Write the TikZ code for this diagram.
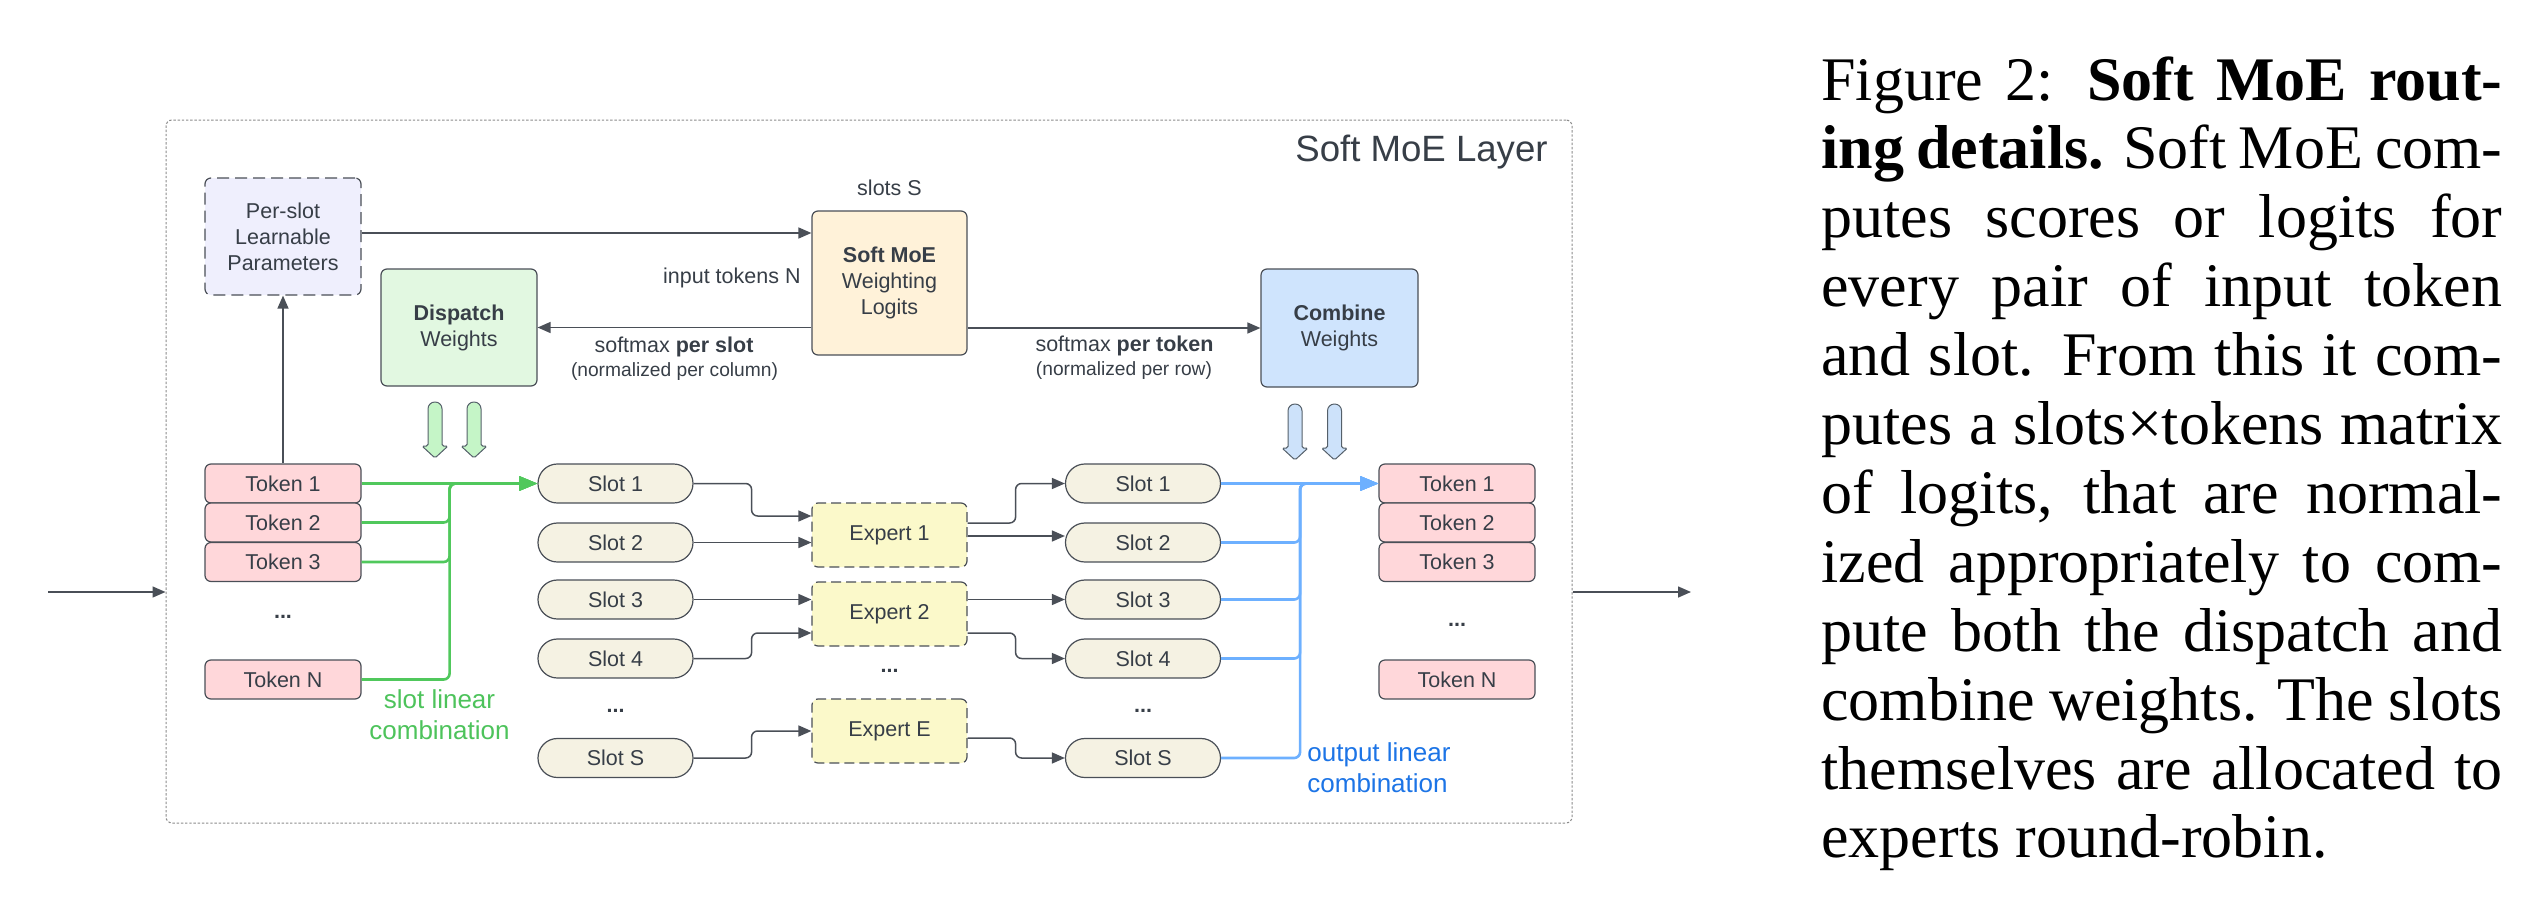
\documentclass[tikz,border=0pt]{standalone}
\usepackage{fontspec}
\setmainfont{Liberation Sans}
\newfontfamily\capserif{Liberation Serif}
\usetikzlibrary{arrows.meta,calc}

\definecolor{edge}{HTML}{4A4F57}
\definecolor{txt}{HTML}{373E47}
\definecolor{layeredge}{HTML}{8C8C8C}
\definecolor{perfill}{HTML}{EFEFFD}
\definecolor{dispfill}{HTML}{E2F8E1}
\definecolor{moefill}{HTML}{FFF2D9}
\definecolor{combfill}{HTML}{CFE4FD}
\definecolor{tokfill}{HTML}{FFD7DA}
\definecolor{slotfill}{HTML}{F5F2E3}
\definecolor{expfill}{HTML}{FBF9CA}
\definecolor{gfat}{HTML}{C5F5C7}
\definecolor{bfat}{HTML}{CDE2FA}
\definecolor{fatedge}{HTML}{55606A}
\definecolor{gline}{HTML}{50C85C}
\definecolor{gtext}{HTML}{4DC35B}
\definecolor{bline}{HTML}{6DB0FF}
\definecolor{btext}{HTML}{1C74E6}

\tikzset{
  box/.style={draw=edge, line width=0.6pt, rounded corners=3pt, align=center, inner sep=0pt},
  dashbox/.style={box, dash pattern=on 6pt off 3pt},
  bigbox/.style={box, minimum width=78pt, minimum height=58.5pt},
  token/.style={box, fill=tokfill, minimum width=78pt, minimum height=19.5pt},
  slot/.style={box, fill=slotfill, rounded corners=9.7pt, minimum width=77.5pt, minimum height=19.5pt},
  expert/.style={dashbox, dash pattern=on 5pt off 2.5pt, fill=expfill, minimum width=77.5pt, minimum height=32pt},
  label/.style={inner sep=0pt, align=center},
  dots/.style={label, font=\bfseries\fontsize{10.75}{13}\selectfont},
  small/.style={font=\fontsize{9.6}{12}\selectfont},
  conn/.style={draw=edge, line width=0.75pt, rounded corners=3pt, -{Triangle[length=6.5pt,width=5.5pt]}},
  gconn/.style={draw=gline, line width=1.3pt, rounded corners=3pt, -{Triangle[length=9pt,width=7pt]}},
  bconn/.style={draw=bline, line width=1.3pt, rounded corners=3pt, -{Triangle[length=9pt,width=7pt]}},
  capline/.style={anchor=base west, inner sep=0pt, text=black, font=\capserif\fontsize{31}{34.5}\selectfont},
  fatarrow/.pic={
    \draw[pic actions, line width=0.5pt, rounded corners=0.8pt]
      (-13,44) -- (-7,44) [rounded corners=3.4pt] -- (-7,0) -- (7,0)
      [rounded corners=0.8pt] -- (7,44) -- (13,44) -- (0,56) -- cycle;
  }
}

\begin{document}
\begin{tikzpicture}[x=0.5pt, y=-0.5pt, font=\fontsize{10.75}{13}\selectfont, text=txt]
\useasboundingbox (0,0) rectangle (2534,910);

% layer frame and title
\node[draw=layeredge, line width=0.5pt, dash pattern=on 1.2pt off 0.9pt, rounded corners=3pt,
      minimum width=703pt, minimum height=351.5pt, inner sep=0pt] (layer) at (869,471.5) {};
\node[label, anchor=east, font=\fontsize{18.3}{22}\selectfont] (title) at (1548,152) {Soft MoE Layer};

% weighting part
\node[dashbox, bigbox, fill=perfill] (ps) at (283,236.5) {Per-slot\\Learnable\\Parameters};
\node[box, fill=moefill, minimum width=77.5pt, minimum height=72pt] (moe) at (889.5,283)
     {\textbf{Soft MoE}\\Weighting\\Logits};
\node[bigbox, fill=dispfill] (disp) at (459,327.5) {\textbf{Dispatch}\\Weights};
\node[bigbox, fill=combfill, minimum width=78.5pt, minimum height=59pt] (comb) at (1339.5,328)
     {\textbf{Combine}\\Weights};

\node[label] (slotsS) at (889.5,188) {slots S};
\node[label, anchor=east] (inN) at (801,278) {input tokens N};
\node[label] (smslot) at (674,347) {softmax \textbf{per slot}};
\node[label, small] (ncol) at (674.5,372) {(normalized per column)};
\node[label] (smtok) at (1124.5,346) {softmax \textbf{per token}};
\node[label, small] (nrow) at (1124,371) {(normalized per row)};

% input tokens
\node[token] (tl1) at (283,483.5) {Token 1};
\node[token] (tl2) at (283,522.5) {Token 2};
\node[token] (tl3) at (283,562) {Token 3};
\node[dots] (tldots) at (283,617) {...};
\node[token] (tlN) at (283,679.5) {Token N};

% slots before the experts
\node[slot] (s1) at (615.5,483.5) {Slot 1};
\node[slot] (s2) at (615.5,542.5) {Slot 2};
\node[slot] (s3) at (615.5,599.5) {Slot 3};
\node[slot] (s4) at (615.5,658.5) {Slot 4};
\node[dots] (sdots) at (615.5,711) {...};
\node[slot] (sS) at (615.5,758) {Slot S};

% experts
\node[expert] (e1) at (889.5,535) {Expert 1};
\node[expert] (e2) at (889.5,614) {Expert 2};
\node[dots] (edots) at (889.5,671) {...};
\node[expert] (eE) at (889.5,731) {Expert E};

% slots after the experts
\node[slot] (r1) at (1143,483.5) {Slot 1};
\node[slot] (r2) at (1143,542.5) {Slot 2};
\node[slot] (r3) at (1143,599.5) {Slot 3};
\node[slot] (r4) at (1143,658.5) {Slot 4};
\node[dots] (rdots) at (1143,711) {...};
\node[slot] (rS) at (1143,758) {Slot S};

% output tokens
\node[token] (to1) at (1457,483.5) {Token 1};
\node[token] (to2) at (1457,522.5) {Token 2};
\node[token] (to3) at (1457,562) {Token 3};
\node[dots] (todots) at (1457,625) {...};
\node[token] (toN) at (1457,679.5) {Token N};

% combination labels
\node[label, text=gtext, font=\fontsize{13}{15.5}\selectfont] (glab) at (439.5,714.5) {slot linear\\combination};
\node[label, text=btext, font=\fontsize{13}{15.5}\selectfont, anchor=west, align=left] (blab) at (1307,768)
     {output linear\\combination};

% weight arrows
\pic[fill=gfat, draw=fatedge] at (435,402) {fatarrow};
\pic[fill=gfat, draw=fatedge] at (474,402) {fatarrow};
\pic[fill=bfat, draw=fatedge] at (1295,404) {fatarrow};
\pic[fill=bfat, draw=fatedge] at (1334.5,404) {fatarrow};

% layer input and output
\coordinate (in) at (48,592);
\coordinate (out) at (1691,592);
\draw[conn] (in) -- (layer.west |- in);
\draw[conn] (layer.east |- out) -- (out);

% logits and weights
\draw[conn] (tl1.north) -- (ps.south);
\draw[conn] ($(ps.east)+(0,-3.5)$) -- ($(moe.west)+(0,-50)$);
\draw[conn] (moe.west |- disp.east) -- (disp.east);
\draw[conn] (moe.east |- comb.west) -- (comb.west);

% dispatch: tokens into slot 1
\draw[gconn, line width=1.1pt] (tl1.east) -- (s1.west);
\draw[gconn] (tl2.east) -- ++(88,0) |- (s1.west);
\draw[gconn] (tl3.east) -- ++(88,0) |- (s1.west);
\draw[gconn] (tlN.east) -- ++(88,0) |- (s1.west);

% slots into experts
\draw[conn] (s1.east) -- ++(58,0) |- ($(e1.west)+(0,-19)$);
\draw[conn] (s2.east) -- (e1.west |- s2.east);
\draw[conn] (s3.east) -- (e2.west |- s3.east);
\draw[conn] (s4.east) -- ++(58,0) |- ($(e2.west)+(0,19)$);
\draw[conn] (sS.east) -- ++(58,0) |- (eE.west);

% experts into slots
\draw[conn] ($(e1.east)+(0,-12)$) -- ++(48,0) |- (r1.west);
\draw[conn] ($(e1.east)+(0,1)$) -- ($(r2.west)+(0,-6.5)$);
\draw[conn] (e2.east |- r3.west) -- (r3.west);
\draw[conn] ($(e2.east)+(0,19)$) -- ++(48,0) |- (r4.west);
\draw[conn] ($(eE.east)+(0,7)$) -- ++(48,0) |- (rS.west);

% combine: slots into output token 1
\draw[bconn, line width=1.1pt] (r1.east) -- (to1.west);
\draw[bconn] (r2.east) -- ++(79,0) |- (to1.west);
\draw[bconn] (r3.east) -- ++(79,0) |- (to1.west);
\draw[bconn] (r4.east) -- ++(79,0) |- (to1.west);
\draw[bconn] (rS.east) -- ++(79,0) |- (to1.west);

% caption
\node[capline] (c1) at (1821,100) {\makebox[340.5pt][s]{Figure 2: \textbf{Soft MoE rout-}}};
\node[capline] (c2) at (1821,168.9) {\makebox[340.5pt][s]{\textbf{ing details.} Soft MoE com-}};
\node[capline] (c3) at (1821,237.8) {\makebox[340.5pt][s]{putes scores or logits for}};
\node[capline] (c4) at (1821,306.7) {\makebox[340.5pt][s]{every pair of input token}};
\node[capline] (c5) at (1821,375.6) {\makebox[340.5pt][s]{and slot. From this it com-}};
\node[capline] (c6) at (1821,444.5) {\makebox[340.5pt][s]{putes a slots×tokens matrix}};
\node[capline] (c7) at (1821,513.4) {\makebox[340.5pt][s]{of logits, that are normal-}};
\node[capline] (c8) at (1821,582.3) {\makebox[340.5pt][s]{ized appropriately to com-}};
\node[capline] (c9) at (1821,651.2) {\makebox[340.5pt][s]{pute both the dispatch and}};
\node[capline] (c10) at (1821,720.1) {\makebox[340.5pt][s]{combine weights. The slots}};
\node[capline] (c11) at (1821,789) {\makebox[340.5pt][s]{themselves are allocated to}};
\node[capline] (c12) at (1821,857.9) {experts round-robin.};
\end{tikzpicture}
\end{document}
